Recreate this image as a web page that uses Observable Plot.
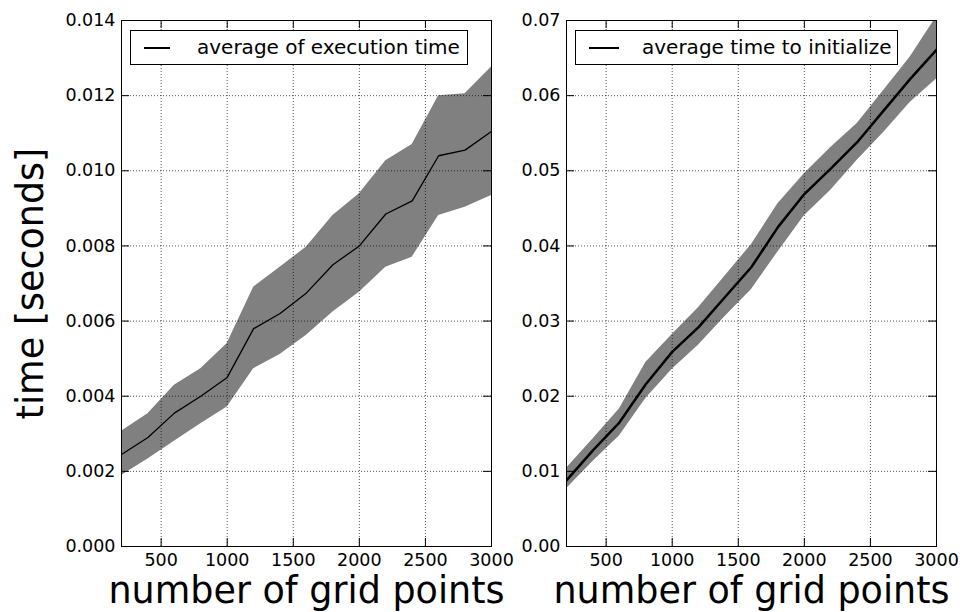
<!DOCTYPE html>
<html>
<head>
<meta charset="utf-8">
<script src="https://cdn.jsdelivr.net/npm/d3@7"></script>
<script src="https://cdn.jsdelivr.net/npm/@observablehq/plot@0.6"></script>
<style>
  html, body { margin: 0; padding: 0; background: #fff; }
  #wrap { position: relative; width: 962px; height: 612px; overflow: hidden; font-family: "DejaVu Sans", sans-serif; }
  .panel { position: absolute; top: 0; }
  .legend { position: absolute; box-sizing: border-box; border: 1px solid #000; background: #fff; height: 35px; top: 30px; }
  .legend .ln { position: absolute; top: 16px; background: #000; }
  .legend .tx { position: absolute; top: 4px; font-size: 20px; line-height: 24px; white-space: nowrap; color: #000; }
</style>
</head>
<body>
<div id="wrap"></div>
<script>
// ---- data ----
const gridPoints = [200, 400, 600, 800, 1000, 1200, 1400, 1600, 1800, 2000, 2200, 2400, 2600, 2800, 3000];

const execMean  = [0.00245, 0.0029, 0.00355, 0.0040, 0.0045, 0.0058, 0.0062, 0.00675, 0.0075, 0.0080, 0.00885, 0.0092, 0.0104, 0.01055, 0.01105];
const execUpper = [0.00307, 0.00353, 0.00429, 0.00473, 0.0054, 0.0069, 0.00743, 0.00797, 0.00881, 0.00939, 0.01027, 0.0107, 0.0120, 0.01205, 0.01276];
const execLower = [0.00189, 0.00233, 0.0028, 0.00327, 0.00371, 0.00473, 0.00511, 0.00562, 0.00624, 0.00677, 0.00743, 0.0077, 0.00881, 0.00903, 0.00934];

const initMean  = [0.0088, 0.0128, 0.0165, 0.0216, 0.0259, 0.0292, 0.0332, 0.0372, 0.0425, 0.0469, 0.0503, 0.0538, 0.0580, 0.0622, 0.0661];
const initUpper = [0.0104, 0.0143, 0.0183, 0.0245, 0.0282, 0.0318, 0.0360, 0.0402, 0.0456, 0.0496, 0.0531, 0.0563, 0.0607, 0.0651, 0.0705];
const initLower = [0.0077, 0.0113, 0.0147, 0.0197, 0.0236, 0.0268, 0.0306, 0.0342, 0.0392, 0.0440, 0.0474, 0.0514, 0.0551, 0.0591, 0.0622];

const xTicks = [500, 1000, 1500, 2000, 2500, 3000];
const yTicksLeft = [0, 0.002, 0.004, 0.006, 0.008, 0.010, 0.012, 0.014];
const yTicksRight = [0, 0.01, 0.02, 0.03, 0.04, 0.05, 0.06, 0.07];

const xLabel = "number of grid points";
const yLabel = "time [seconds]";
const legendLeft = "average of execution time";
const legendRight = "average time to initialize";

// ---- build ----
const H = 612, MT = 20, MB = 66;
const plotH = H - MT - MB;

function panel({width, marginLeft, marginRight, mean, upper, lower, yDomain, yTicks, yFmt, lineWidth, withYLabel}) {
  const rows = gridPoints.map((x, i) => ({x, mean: mean[i], upper: upper[i], lower: lower[i]}));
  const plotW = width - marginLeft - marginRight;
  const gridStyle = {stroke: "#000", strokeOpacity: 0.85, strokeWidth: 0.8, strokeDasharray: "1,2"};
  const tickLen = 8;
  const marks = [
    Plot.areaY(rows, {x: "x", y1: "lower", y2: "upper", fill: "#808080", clip: true}),
    Plot.lineY(rows, {x: "x", y: "mean", stroke: "#000", strokeWidth: lineWidth, clip: true}),
    Plot.ruleX(xTicks, {...gridStyle}),
    Plot.ruleY(yTicks, {...gridStyle}),
    // inward tick marks on all four sides
    Plot.tickY(yTicks, {y: d => d, stroke: "#000", strokeWidth: 1, insetRight: plotW - tickLen}),
    Plot.tickY(yTicks, {y: d => d, stroke: "#000", strokeWidth: 1, insetLeft: plotW - tickLen}),
    Plot.tickX(xTicks, {x: d => d, stroke: "#000", strokeWidth: 1, insetTop: plotH - tickLen}),
    Plot.tickX(xTicks, {x: d => d, stroke: "#000", strokeWidth: 1, insetBottom: plotH - tickLen}),
    Plot.frame({stroke: "#000", strokeWidth: 1}),
    Plot.axisX(xTicks, {tickSize: 0, tickPadding: 7, tickFormat: d3.format("d"), label: null, fontSize: 17.5, fill: "#000"}),
    Plot.axisY(yTicks, {tickSize: 0, tickPadding: 6, tickFormat: d3.format(yFmt), label: null, fontSize: 17.5, fill: "#000"}),
    Plot.text([xLabel], {text: d => d, frameAnchor: "bottom", textAnchor: "middle", dy: 56, fontSize: 36.5, fill: "#000"})
  ];
  if (withYLabel) {
    marks.push(Plot.text([yLabel], {text: d => d, frameAnchor: "left", textAnchor: "middle", rotate: -90, dx: -90, fontSize: 36.5, fill: "#000"}));
  }
  return Plot.plot({
    width, height: H,
    marginLeft, marginRight, marginTop: MT, marginBottom: MB,
    x: {domain: [200, 3000], axis: null},
    y: {domain: yDomain, axis: null},
    style: {background: "transparent", overflow: "visible", fontFamily: "DejaVu Sans, sans-serif", color: "#000"},
    marks
  });
}

const wrap = document.getElementById("wrap");

const left = panel({width: 518, marginLeft: 121, marginRight: 27, mean: execMean, upper: execUpper, lower: execLower,
  yDomain: [0, 0.014], yTicks: yTicksLeft, yFmt: ".3f", lineWidth: 1.3, withYLabel: true});
left.classList.add("panel"); left.style.left = "0px";
wrap.appendChild(left);

const right = panel({width: 444, marginLeft: 48, marginRight: 26, mean: initMean, upper: initUpper, lower: initLower,
  yDomain: [0, 0.07], yTicks: yTicksRight, yFmt: ".2f", lineWidth: 2.5, withYLabel: false});
right.classList.add("panel"); right.style.left = "518px";
wrap.appendChild(right);

function legend(x, w, lineX1, lineX2, lineW, textX, label) {
  const box = document.createElement("div");
  box.className = "legend";
  box.style.left = x + "px";
  box.style.width = w + "px";
  const ln = document.createElement("div");
  ln.className = "ln";
  ln.style.left = (lineX1 - x) + "px";
  ln.style.width = (lineX2 - lineX1) + "px";
  ln.style.height = lineW + "px";
  ln.style.top = (17 - lineW / 2) + "px";
  const tx = document.createElement("div");
  tx.className = "tx";
  tx.style.left = (textX - x) + "px";
  tx.textContent = label;
  box.appendChild(ln); box.appendChild(tx);
  wrap.appendChild(box);
}
legend(130, 338, 143, 169, 1.3, 196, legendLeft);
legend(575, 323, 588, 618, 2.5, 641, legendRight);
</script>
</body>
</html>
